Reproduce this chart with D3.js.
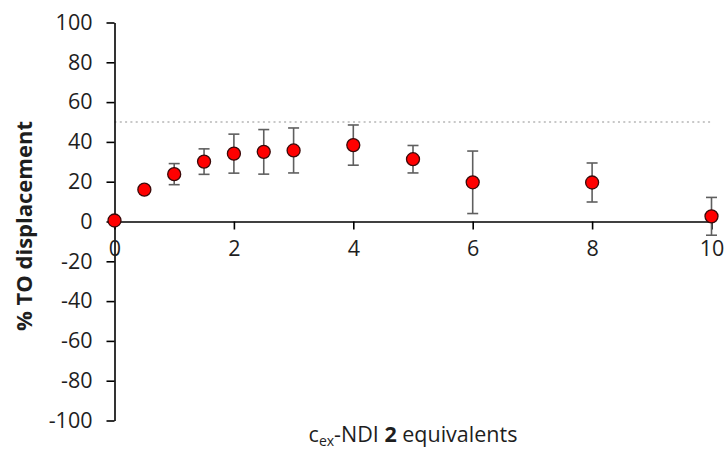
<!DOCTYPE html>
<html>
<head>
<meta charset="utf-8">
<script src="https://cdn.jsdelivr.net/npm/d3@7"></script>
<style>
  html, body { margin: 0; padding: 0; background: #fff; }
  svg { display: block; }
  text { font-family: "Open Sans", "Noto Sans", sans-serif; fill: #1e1e1e; }
</style>
</head>
<body>
<svg id="chart" width="727" height="452"></svg>
<script>
// Equivalents of cex-NDI 2 added
const equivalents = [0, 0.5, 1, 1.5, 2, 2.5, 3, 4, 5, 6, 8, 10];
// Mean % TO displacement
const displacement = [0.5, 16, 23.8, 30.1, 34.1, 35, 35.7, 38.4, 31.3, 19.7, 19.6, 2.6];
// Error (± one standard deviation)
const errors = [0, 0, 5.3, 6.4, 9.8, 11.2, 11.3, 10.1, 6.9, 15.7, 9.8, 9.5];

const xTicks = [0, 2, 4, 6, 8, 10];
const yTicks = [-100, -80, -60, -40, -20, 0, 20, 40, 60, 80, 100];
const referenceLevel = 50;

const svg = d3.select("#chart");
const x = d3.scaleLinear().domain([0, 10]).range([114.5, 711.5]);
const y = d3.scaleLinear().domain([-100, 100]).range([420.5, 22.5]);
const fmt = d => String(d); // plain hyphen-minus

// 50 % reference line
svg.append("line")
  .attr("x1", x(0)).attr("x2", x(10))
  .attr("y1", y(referenceLevel)).attr("y2", y(referenceLevel))
  .attr("stroke", "#c8c8c8").attr("stroke-width", 2)
  .attr("stroke-dasharray", "2,3.3");

// Y axis
const yAxis = svg.append("g")
  .attr("transform", `translate(${x(0)},0)`)
  .call(d3.axisLeft(y).tickValues(yTicks).tickFormat(fmt).tickSize(8).tickPadding(14).tickSizeOuter(0));
yAxis.select(".domain").attr("stroke", "#000").attr("stroke-width", 1.6);
yAxis.selectAll(".tick line").attr("stroke", "#000").attr("stroke-width", 1.6);
yAxis.selectAll(".tick text").style("font-size", "21.5px").attr("fill", "#1e1e1e");

// X axis crossing at zero
const xAxis = svg.append("g")
  .attr("transform", `translate(0,${y(0)})`)
  .call(d3.axisBottom(x).tickValues(xTicks).tickFormat(fmt).tickSize(8).tickPadding(11).tickSizeOuter(0));
xAxis.select(".domain").attr("stroke", "#000").attr("stroke-width", 1.6);
xAxis.selectAll(".tick line").attr("stroke", "#000").attr("stroke-width", 1.6);
xAxis.selectAll(".tick text").style("font-size", "21.5px").attr("fill", "#1e1e1e");

svg.selectAll("text").attr("font-family", "'Open Sans', sans-serif");

// Error bars
const capHalf = 5.5;
const eb = svg.append("g").attr("stroke", "#5f5f5f").attr("stroke-width", 1.6).attr("fill", "none");
equivalents.forEach((d, i) => {
  if (errors[i] <= 0) return;
  const cx = x(d), top = y(displacement[i] + errors[i]), bot = y(displacement[i] - errors[i]);
  eb.append("line").attr("x1", cx).attr("x2", cx).attr("y1", top).attr("y2", bot);
  eb.append("line").attr("x1", cx - capHalf).attr("x2", cx + capHalf).attr("y1", top).attr("y2", top);
  eb.append("line").attr("x1", cx - capHalf).attr("x2", cx + capHalf).attr("y1", bot).attr("y2", bot);
});

// Markers
svg.append("g").selectAll("circle")
  .data(equivalents)
  .join("circle")
  .attr("cx", d => x(d))
  .attr("cy", (d, i) => y(displacement[i]))
  .attr("r", 6.5)
  .attr("fill", "#ff0000")
  .attr("stroke", "#3a0a0a")
  .attr("stroke-width", 1.3);

// Axis titles
svg.append("text")
  .attr("transform", `translate(32,226) rotate(-90)`)
  .attr("text-anchor", "middle")
  .style("font-size", "22px")
  .style("font-weight", "bold")
  .text("% TO displacement");

const xt = svg.append("text")
  .attr("x", 413)
  .attr("y", 442)
  .attr("text-anchor", "middle")
  .style("font-size", "21.5px");
xt.append("tspan").text("c");
xt.append("tspan").attr("dy", 4).style("font-size", "14px").text("ex");
xt.append("tspan").attr("dy", -4).text("-NDI ");
xt.append("tspan").style("font-weight", "bold").text("2");
xt.append("tspan").text(" equivalents");
</script>
</body>
</html>
